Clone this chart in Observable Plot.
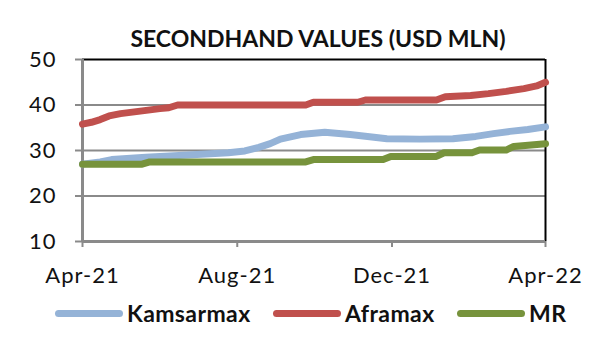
<!DOCTYPE html>
<html>
<head>
<meta charset="utf-8">
<script src="https://cdn.jsdelivr.net/npm/d3@7"></script>
<script src="https://cdn.jsdelivr.net/npm/@observablehq/plot@0.6"></script>
<style>
  html, body { margin: 0; padding: 0; background: #fff; }
  #wrap { position: relative; width: 600px; height: 356px; overflow: hidden; font-family: Lato, "Open Sans", sans-serif; }
  #title { position: absolute; left: 0; width: 636px; top: 27px; text-align: center; font-weight: bold; font-size: 23px; line-height: 23px; color: #111; }
  #chart { position: absolute; left: 0; top: 0; }
  .leg { position: absolute; top: 302px; display: flex; align-items: center; height: 22px; }
  .sw { width: 68px; height: 7px; border-radius: 4px; margin-right: 4px; }
  .lab { font-weight: bold; font-size: 23px; color: #111; line-height: 22px; letter-spacing: 0.4px; }
</style>
</head>
<body>
<div id="wrap">
  <div id="title">SECONDHAND VALUES (USD MLN)</div>
  <div id="chart"></div>
</div>
<script>
// ---- data ----
const seriesNames = ["Kamsarmax", "Aframax", "MR"];
const seriesColors = ["#95B3D7", "#C0504D", "#77933C"];

const kamsarmaxDates = ["2021-04-01","2021-04-15","2021-04-24","2021-05-21","2021-06-16","2021-07-25","2021-08-07","2021-08-18","2021-08-27","2021-09-04","2021-09-20","2021-10-09","2021-10-29","2021-11-27","2021-12-23","2022-01-18","2022-02-05","2022-02-19","2022-03-04","2022-03-18","2022-04-01"];
const kamsarmaxValues = [27.0, 27.5, 28.0, 28.5, 28.9, 29.5, 29.9, 30.7, 31.5, 32.5, 33.5, 34.0, 33.5, 32.6, 32.5, 32.6, 33.1, 33.7, 34.2, 34.6, 35.2];

const aframaxDates = ["2021-04-01","2021-04-08","2021-04-15","2021-04-22","2021-05-01","2021-05-15","2021-06-01","2021-06-08","2021-06-15","2021-09-24","2021-09-30","2021-11-04","2021-11-10","2022-01-05","2022-01-12","2022-02-01","2022-02-15","2022-03-01","2022-03-15","2022-03-25","2022-04-01"];
const aframaxValues = [35.8, 36.2, 36.8, 37.6, 38.1, 38.6, 39.2, 39.4, 40.0, 40.0, 40.6, 40.6, 41.1, 41.1, 41.8, 42.1, 42.5, 43.0, 43.6, 44.2, 45.0];

const mrDates = ["2021-04-01","2021-05-18","2021-05-24","2021-09-24","2021-09-30","2021-11-24","2021-11-30","2022-01-05","2022-01-11","2022-02-02","2022-02-08","2022-03-01","2022-03-07","2022-04-01"];
const mrValues = [27.0, 27.0, 27.5, 27.5, 28.0, 28.0, 28.7, 28.7, 29.5, 29.5, 30.1, 30.1, 30.9, 31.5];

const yTicks = [10, 20, 30, 40, 50];
const xTickDates = ["2021-04-01", "2021-08-01", "2021-12-01", "2022-04-01"];
const xTickLabels = ["Apr-21", "Aug-21", "Dec-21", "Apr-22"];

// ---- build table ----
const parse = d3.utcParse("%Y-%m-%d");
const rows = [];
[[kamsarmaxDates, kamsarmaxValues], [aframaxDates, aframaxValues], [mrDates, mrValues]].forEach(([ds, vs], i) => {
  ds.forEach((d, j) => rows.push({series: seriesNames[i], date: parse(d), value: vs[j]}));
});
const xTicks = xTickDates.map(parse);
const xDomain = [xTicks[0], xTicks[xTicks.length - 1]];
const labelOf = new Map(xTicks.map((d, i) => [+d, xTickLabels[i]]));

const gray = "#8a8a8a";
const plot = Plot.plot({
  width: 600,
  height: 300,
  marginTop: 59,
  marginBottom: 59,
  marginLeft: 82,
  marginRight: 55,
  style: {fontFamily: "Lato, 'Open Sans', sans-serif", background: "transparent", overflow: "visible", letterSpacing: "1px"},
  x: {type: "utc", domain: xDomain, label: null},
  y: {domain: [10, 50], label: null},
  color: {domain: seriesNames, range: seriesColors},
  marks: [
    Plot.gridY(yTicks.slice(1, -1), {stroke: gray, strokeOpacity: 1, strokeWidth: 2}),
    Plot.ruleY([50], {stroke: "#000", strokeWidth: 2}),
    Plot.ruleX([xDomain[1]], {stroke: "#000", strokeWidth: 2}),
    Plot.ruleY([10], {stroke: gray, strokeWidth: 3}),
    Plot.ruleX([xDomain[0]], {stroke: gray, strokeWidth: 3}),
    Plot.axisY(yTicks, {tickSize: 7, tickPadding: 19, stroke: gray, strokeWidth: 2, fill: "#111", fontSize: 22, label: null}),
    Plot.axisX(xTicks, {tickSize: 6, tickPadding: 20, stroke: gray, strokeWidth: 2, fill: "#111", fontSize: 22, label: null, tickFormat: d => labelOf.get(+d)}),
    Plot.line(rows, {x: "date", y: "value", z: "series", stroke: "series", strokeWidth: 7, curve: "linear"})
  ]
});
document.getElementById("chart").appendChild(plot);

// ---- legend ----
const legendLeft = [55, 273, 457];
const wrap = document.getElementById("wrap");
seriesNames.forEach((name, i) => {
  const item = document.createElement("div");
  item.className = "leg";
  item.style.left = legendLeft[i] + "px";
  const sw = document.createElement("div");
  sw.className = "sw";
  sw.style.background = seriesColors[i];
  const lab = document.createElement("span");
  lab.className = "lab";
  lab.textContent = name;
  item.appendChild(sw);
  item.appendChild(lab);
  wrap.appendChild(item);
});
</script>
</body>
</html>
